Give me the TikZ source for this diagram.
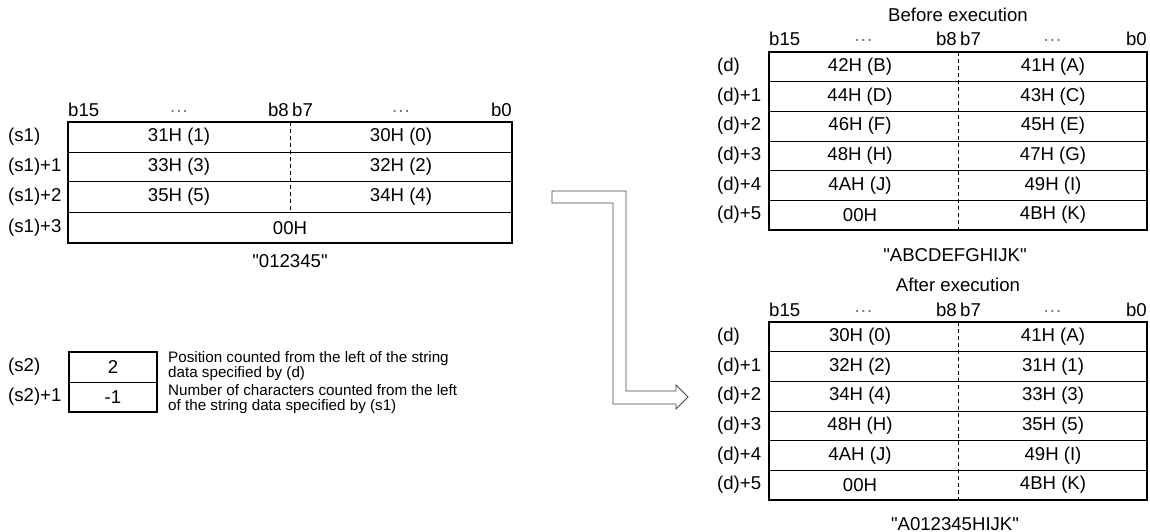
\documentclass[tikz,border=0pt]{standalone}
\usepackage{fontspec}
\setmainfont{Liberation Sans}
\usetikzlibrary{calc,positioning}
\definecolor{ArrowColor}{RGB}{70,70,70}
\definecolor{DotColor}{RGB}{110,110,110}
\tikzset{
  cell/.style={inner sep=0pt,font=\fontsize{18.6}{20}\selectfont},
  rowlbl/.style={inner sep=0pt,anchor=west,font=\fontsize{18.6}{20}\selectfont},
  note/.style={inner sep=0pt,anchor=west,align=left,font=\fontsize{15.2}{15.5}\selectfont},
  frame/.style={line width=1.8pt},
  grid/.style={line width=0.8pt},
  divider/.style={line width=0.8pt,dash pattern=on 4pt off 3pt}
}
\newcommand{\qt}[1]{\textquotedbl#1\textquotedbl}
\newcommand{\tridots}{\textperiodcentered\textperiodcentered\textperiodcentered}
% bit header: prefix, left x, middle x, right x, baseline y
\newcommand{\bithead}[5]{%
  \node[cell,anchor=base west] (#1b15) at (#2,#5) {b15};
  \node[cell,anchor=base east] (#1b8) at ({#3-1},#5) {b8};
  \node[cell,anchor=base west] (#1b7) at ({#3+2},#5) {b7};
  \node[cell,anchor=base east] (#1b0) at (#4,#5) {b0};
  \node[cell,anchor=base,DotColor] (#1dl) at ({(#2+#3)/2},#5) {\tridots};
  \node[cell,anchor=base,DotColor] (#1dr) at ({(#3+#4)/2},#5) {\tridots};
}

\begin{document}
\begin{tikzpicture}[x=1pt,y=-1pt]
\useasboundingbox (0,0) rectangle (1150,532);

% source string (s1)
\bithead{s}{68}{290}{512}{117}
\draw[grid] (68,152) -- (512,152) (68,181) -- (512,181) (68,212) -- (512,212);
\draw[divider] (290,122) -- (290,212);
\draw[frame] (68,122) rectangle (512,243);
\node[rowlbl] (s1) at (8,137) {(s1)};
\node[rowlbl] (s1p1) at (8,167) {(s1)+1};
\node[rowlbl] (s1p2) at (8,197) {(s1)+2};
\node[rowlbl] (s1p3) at (8,228) {(s1)+3};
\node[cell] (sh0) at (179,137) {31H (1)};
\node[cell] (sl0) at (401,137) {30H (0)};
\node[cell] (sh1) at (179,167) {33H (3)};
\node[cell] (sl1) at (401,167) {32H (2)};
\node[cell] (sh2) at (179,197) {35H (5)};
\node[cell] (sl2) at (401,197) {34H (4)};
\node[cell] (sz) at (290,228) {00H};
\node[cell] (scap) at (290,261) {\qt{012345}};

% (s2) settings
\draw[grid] (69,382) -- (157,382);
\draw[frame] (69,352) rectangle (157,412);
\node[rowlbl] (s2) at (8,367) {(s2)};
\node[rowlbl] (s2p1) at (8,397) {(s2)+1};
\node[cell] (pos) at (113,367) {2};
\node[cell] (num) at (113,397) {-1};
\node[note] (posnote) at (168,366) {Position counted from the left of the string\\data specified by (d)};
\node[note] (numnote) at (168,399) {Number of characters counted from the left\\of the string data specified by (s1)};

% hollow arrow
\draw[ArrowColor,line width=0.8pt] (552,191) -- (626,191) -- (626,391) -- (676,391) -- (676,385)
  -- (688,397) -- (676,409) -- (676,404) -- (613,404) -- (613,203) -- (552,203) -- cycle;

% destination before execution
\node[cell] (before) at (958,15) {Before execution};
\bithead{b}{769}{958}{1147}{46}
\foreach \i in {1,...,5}
  \draw[grid] (769,{52+29.67*\i}) -- (1147,{52+29.67*\i});
\draw[divider] (958,52) -- (958,230);
\draw[frame] (769,52) rectangle (1147,230);
\foreach \hi/\lo [count=\i from 0] in {{42H (B)}/{41H (A)},{44H (D)}/{43H (C)},{46H (F)}/{45H (E)},
    {48H (H)}/{47H (G)},{4AH (J)}/{49H (I)},{00H}/{4BH (K)}}{
  \node[rowlbl] (bd\i) at (717,{66.8+29.67*\i}) {(d)\ifnum\i>0 +\i\fi};
  \node[cell] (bh\i) at (860,{66.8+29.67*\i}) {\hi};
  \node[cell] (bl\i) at (1053,{66.8+29.67*\i}) {\lo};
}
\node[cell] (bcap) at (955,255) {\qt{ABCDEFGHIJK}};

% destination after execution
\node[cell] (after) at (958,285) {After execution};
\bithead{a}{769}{958}{1147}{316}
\foreach \i in {1,...,5}
  \draw[grid] (769,{322+29.67*\i}) -- (1147,{322+29.67*\i});
\draw[divider] (958,322) -- (958,500);
\draw[frame] (769,322) rectangle (1147,500);
\foreach \hi/\lo [count=\i from 0] in {{30H (0)}/{41H (A)},{32H (2)}/{31H (1)},{34H (4)}/{33H (3)},
    {48H (H)}/{35H (5)},{4AH (J)}/{49H (I)},{00H}/{4BH (K)}}{
  \node[rowlbl] (ad\i) at (717,{336.8+29.67*\i}) {(d)\ifnum\i>0 +\i\fi};
  \node[cell] (ah\i) at (860,{336.8+29.67*\i}) {\hi};
  \node[cell] (al\i) at (1053,{336.8+29.67*\i}) {\lo};
}
\node[cell] (acap) at (955,524) {\qt{A012345HIJK}};
\end{tikzpicture}
\end{document}
